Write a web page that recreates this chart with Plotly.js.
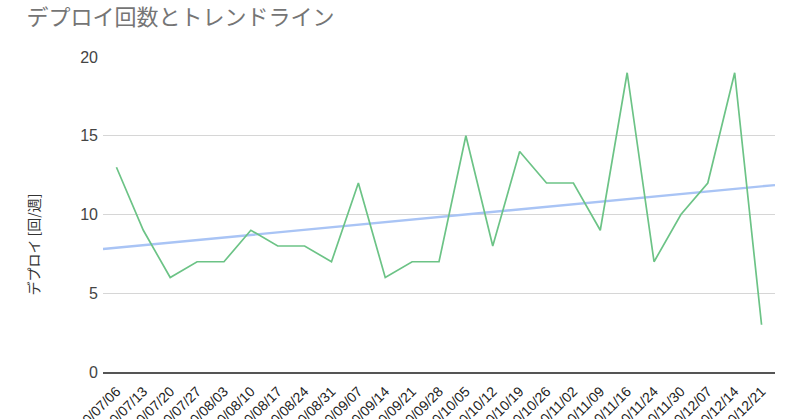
<!DOCTYPE html>
<html>
<head>
<meta charset="utf-8">
<script src="https://cdn.plot.ly/plotly-3.0.1.min.js"></script>
<style>html,body{margin:0;padding:0;background:#fff;overflow:hidden}#chart{width:800px;height:419px}</style>
</head>
<body>
<div id="chart"></div>
<script>
const weeks = ["2020/07/06","2020/07/13","2020/07/20","2020/07/27","2020/08/03","2020/08/10","2020/08/17","2020/08/24","2020/08/31","2020/09/07","2020/09/14","2020/09/21","2020/09/28","2020/10/05","2020/10/12","2020/10/19","2020/10/26","2020/11/02","2020/11/09","2020/11/16","2020/11/24","2020/11/30","2020/12/07","2020/12/14","2020/12/21"];
const deploys = [13, 9, 6, 7, 7, 9, 8, 8, 7, 12, 6, 7, 7, 15, 8, 14, 12, 12, 9, 19, 7, 10, 12, 19, 3];
const yTicks = [0, 5, 10, 15, 20];

const idx = weeks.map((_, i) => i);
// least-squares trend line over the series
const n = deploys.length;
const mx = idx.reduce((a, b) => a + b, 0) / n;
const my = deploys.reduce((a, b) => a + b, 0) / n;
let sxy = 0, sxx = 0;
idx.forEach((x, i) => { sxy += (x - mx) * (deploys[i] - my); sxx += (x - mx) * (x - mx); });
const slope = sxy / sxx;
const xr = [-0.5, n - 0.5];
const trendX = xr;
const trendY = xr.map(x => my + slope * (x - mx));

const FONT = "Arial, 'Liberation Sans', 'Noto Sans CJK JP', sans-serif";
const JP = "'Noto Sans CJK JP', sans-serif";

const traces = [
  {x: trendX, y: trendY, type: 'scatter', mode: 'lines', line: {color: '#a9c4f5', width: 2.4}, hoverinfo: 'skip', showlegend: false},
  {x: idx, y: deploys, type: 'scatter', mode: 'lines', line: {color: '#6cc386', width: 1.7}, showlegend: false}
];

const layout = {
  width: 800, height: 419,
  margin: {l: 103, r: 25, t: 57, b: 47},
  paper_bgcolor: '#fff', plot_bgcolor: '#fff',
  font: {family: FONT, size: 12, color: '#444'},
  title: {text: 'デプロイ回数とトレンドライン', x: 0.033, xanchor: 'left', y: 0.959, yanchor: 'middle',
          font: {family: JP, size: 22, color: '#757575'}},
  xaxis: {
    range: xr, tickvals: idx, ticktext: weeks, tickangle: -45,
    showgrid: false, zeroline: false, showline: true, linecolor: '#555', linewidth: 1.7,
    ticks: '', automargin: false, fixedrange: true, ticklabelstandoff: 4,
    tickfont: {family: FONT, size: 14, color: '#222'}
  },
  yaxis: {
    range: [0, 20], tickvals: yTicks, ticktext: yTicks.map(String),
    showgrid: true, gridcolor: '#d6d6d6', gridwidth: 1, zeroline: false, showline: false,
    ticks: '', automargin: false, fixedrange: true, ticklabelstandoff: 4,
    tickfont: {family: FONT, size: 16, color: '#444'}
  },
  annotations: [{
    text: 'デプロイ [回/週]', xref: 'paper', yref: 'paper', x: -0.104, y: 0.405,
    xanchor: 'center', yanchor: 'middle', textangle: -90, showarrow: false,
    font: {family: JP, size: 14, color: '#333'}
  }]
};

Plotly.newPlot('chart', traces, layout, {displayModeBar: false, staticPlot: true});
</script>
</body>
</html>
